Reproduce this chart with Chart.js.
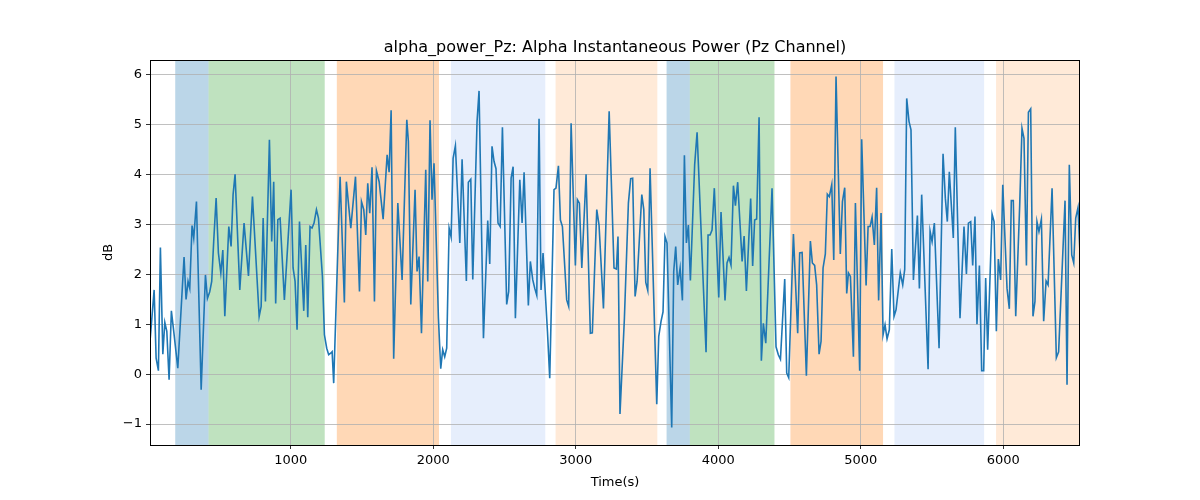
<!DOCTYPE html>
<html>
<head>
<meta charset="utf-8">
<title>alpha_power_Pz</title>
<script src="https://cdn.jsdelivr.net/npm/chart.js@4.4.1/dist/chart.umd.min.js"></script>
<style>
    html, body { margin: 0; padding: 0; background: #ffffff; }
    #chart1 { display: block; }
</style>
</head>
<body>
<canvas id="chart1" width="1200" height="500"></canvas>
<script>
/***  Alpha power Pz  ***/
var chartTitle = 'alpha_power_Pz: Alpha Instantaneous Power (Pz Channel)';
var xLabel = 'Time(s)';
var yLabel = 'dB';

/* Tiempos (s) y potencia (dB) */
var times = [
    13, 41, 55, 71, 85, 102, 116, 130, 146, 162, 179, 207, 251, 265, 279, 291, 307, 319, 338, 371,
    401, 415, 431, 445, 459, 476, 492, 509, 523, 537, 565, 581, 595, 609, 642, 672, 703, 731, 778, 792,
    806, 822, 850, 866, 880, 894, 909, 925, 955, 1002, 1016, 1030, 1044, 1061, 1091, 1105, 1119, 1135, 1149, 1163,
    1180, 1194, 1222, 1236, 1252, 1266, 1280, 1290, 1301, 1346, 1376, 1390, 1421, 1454, 1482, 1496, 1512, 1526, 1540, 1554,
    1570, 1587, 1601, 1620, 1648, 1676, 1690, 1704, 1722, 1751, 1781, 1814, 1825, 1842, 1872, 1886, 1900, 1917, 1947, 1961,
    1977, 1991, 2005, 2036, 2052, 2066, 2080, 2094, 2111, 2125, 2139, 2155, 2186, 2202, 2232, 2246, 2263, 2277, 2307, 2321,
    2352, 2382, 2396, 2412, 2426, 2440, 2454, 2469, 2485, 2515, 2529, 2546, 2560, 2576, 2607, 2623, 2637, 2667, 2681, 2698,
    2712, 2726, 2742, 2756, 2770, 2801, 2817, 2847, 2861, 2878, 2892, 2906, 2936, 2950, 2967, 2997, 3011, 3025, 3042, 3072,
    3102, 3116, 3147, 3163, 3194, 3234, 3268, 3285, 3296, 3310, 3341, 3369, 3385, 3399, 3416, 3430, 3463, 3477, 3491, 3505,
    3521, 3568, 3582, 3598, 3612, 3626, 3640, 3673, 3687, 3701, 3715, 3732, 3748, 3762, 3776, 3790, 3804, 3834, 3851, 3914,
    3928, 3942, 3956, 3972, 4003, 4019, 4047, 4061, 4075, 4089, 4106, 4120, 4136, 4167, 4181, 4197, 4227, 4241, 4255, 4269,
    4286, 4302, 4316, 4333, 4377, 4405, 4421, 4436, 4466, 4480, 4494, 4527, 4557, 4571, 4588, 4618, 4646, 4660, 4676, 4690,
    4707, 4721, 4735, 4751, 4765, 4779, 4796, 4810, 4826, 4856, 4871, 4887, 4901, 4913, 4927, 4948, 4962, 4992, 5006, 5037,
    5051, 5065, 5079, 5095, 5111, 5125, 5142, 5156, 5170, 5184, 5200, 5217, 5233, 5247, 5277, 5294, 5308, 5322, 5338, 5352,
    5369, 5397, 5411, 5427, 5472, 5486, 5500, 5516, 5549, 5577, 5593, 5607, 5621, 5649, 5663, 5696, 5724, 5741, 5755, 5771,
    5785, 5801, 5815, 5832, 5848, 5862, 5876, 5890, 5921, 5935, 5951, 5965, 5981, 5996, 6026, 6042, 6056, 6070, 6087, 6115,
    6131, 6145, 6162, 6176, 6192, 6208, 6222, 6236, 6250, 6267, 6283, 6300, 6314, 6342, 6372, 6388, 6433, 6447, 6463, 6480,
    6494, 6508, 6524, 6538
];
var power = [
    0.69, 1.69, 0.32, 0.07, 2.54, 0.40, 1.04, 0.86, -0.11, 1.27, 0.85, 0.12, 2.35, 1.50, 1.86, 1.72, 2.98, 2.73, 3.46, -0.31,
    1.99, 1.52, 1.65, 1.86, 2.66, 3.53, 2.43, 2.03, 2.49, 1.16, 2.96, 2.56, 3.60, 4.01, 1.69, 3.03, 1.97, 3.56, 1.16, 1.36,
    3.13, 1.46, 4.70, 2.66, 3.86, 1.42, 3.10, 3.13, 1.49, 3.70, 2.13, 1.86, 0.89, 3.06, 1.27, 2.59, 1.14, 2.96, 2.93, 3.03,
    3.30, 3.13, 1.96, 0.79, 0.52, 0.39, 0.42, 0.45, -0.18, 3.96, 1.44, 3.86, 2.93, 3.96, 1.66, 3.46, 3.30, 2.79, 3.83, 3.23,
    4.15, 1.46, 4.08, 3.86, 3.11, 4.40, 4.05, 5.29, 0.31, 3.43, 1.89, 5.10, 4.67, 1.40, 3.70, 2.06, 2.36, 0.82, 4.10, 1.86,
    5.09, 3.50, 4.23, 1.12, 0.11, 0.49, 0.35, 0.52, 2.93, 2.75, 4.33, 4.58, 2.63, 4.31, 1.87, 3.85, 3.91, 1.90, 5.07, 5.68,
    0.72, 3.08, 2.21, 4.57, 4.27, 4.12, 3.03, 2.96, 4.95, 1.40, 1.66, 3.93, 4.16, 1.12, 3.90, 3.03, 4.05, 1.38, 2.26, 1.89,
    1.72, 1.58, 5.12, 1.69, 2.43, 0.86, -0.08, 3.70, 3.73, 4.18, 3.09, 2.96, 1.49, 1.36, 5.03, 2.18, 3.50, 3.43, 2.13, 4.01,
    0.82, 0.83, 3.30, 2.99, 1.32, 5.27, 2.13, 2.11, 2.76, -0.80, 1.12, 3.43, 3.92, 3.93, 1.56, 1.86, 3.60, 3.30, 1.84, 1.68,
    4.13, -0.60, 0.76, 1.06, 1.25, 2.76, 2.63, -1.07, 2.06, 2.56, 1.79, 2.13, 1.48, 4.39, 2.63, 2.99, 1.88, 4.20, 4.85, 0.44,
    2.79, 2.79, 2.89, 3.73, 1.54, 3.25, 1.48, 2.23, 2.34, 2.19, 3.78, 3.38, 3.85, 2.26, 2.77, 1.67, 3.52, 2.17, 3.09, 3.11,
    5.15, 0.27, 1.02, 0.62, 3.73, 0.55, 0.39, 0.30, 1.91, 0.02, -0.07, 2.81, 0.82, 2.43, 2.44, -0.03, 2.67, 2.23, 2.18, 1.79,
    0.40, 0.66, 2.13, 2.41, 3.61, 3.56, 3.80, 2.29, 5.97, 2.41, 3.46, 3.74, 1.62, 2.03, 1.96, 0.35, 3.43, 0.07, 4.71, 1.78,
    2.96, 2.96, 3.15, 2.59, 3.74, 1.48, 3.23, 0.79, 0.99, 0.71, 0.89, 2.51, 1.16, 1.29, 2.03, 1.79, 2.10, 5.53, 5.07, 4.90,
    1.89, 3.18, 1.72, 3.60, 0.10, 2.87, 2.66, 3.03, 0.52, 4.42, 3.53, 3.06, 4.06, 2.73, 4.95, 1.12, 2.96, 2.01, 3.03, 3.06,
    2.18, 3.16, 1.00, 2.18, 0.07, 0.07, 1.93, 0.49, 3.21, 3.06, 0.86, 2.31, 1.89, 3.80, 1.72, 1.31, 3.48, 3.48, 1.16, 3.40,
    4.93, 4.73, 2.18, 5.25, 5.32, 1.16, 1.46, 3.06, 2.86, 3.11, 1.06, 1.87, 1.79, 3.73, 0.33, 0.45, 3.48, -0.21, 4.20, 2.39,
    2.23, 3.13, 3.34, 2.43
];

/* Bandas sombreadas (inicio, fin) */
var bandStart = [189, 423, 1323, 2124, 2858, 3637, 3800, 4506, 5236, 5949];
var bandEnd   = [423, 1238, 2040, 2786, 3572, 3800, 4394, 5156, 5865, 6538];
var bandColor = [
    'rgba(31, 119, 180, 0.3)',
    'rgba(44, 160, 44, 0.3)',
    'rgba(255, 127, 14, 0.3)',
    'rgba(100, 149, 237, 0.16)',
    'rgba(255, 127, 14, 0.16)',
    'rgba(31, 119, 180, 0.3)',
    'rgba(44, 160, 44, 0.3)',
    'rgba(255, 127, 14, 0.3)',
    'rgba(100, 149, 237, 0.16)',
    'rgba(255, 127, 14, 0.16)'
];

/* Ejes */
var xTicks = [1000, 2000, 3000, 4000, 5000, 6000];
var yTicks = [-1, 0, 1, 2, 3, 4, 5, 6];
var xMin = 12, xMax = 6538;
var yMin = -1.42, yMax = 6.3;

var FONT = '"DejaVu Sans", sans-serif';

/* Formato de etiquetas estilo matplotlib (signo menos, sin comas) */
function tickText(v) {
    return v < 0 ? '\u2212' + Math.abs(v) : String(v);
}

/* Bandas de fondo, marco y textos */
var decoPlugin = {
    id: 'deco',
    beforeDraw: function (chart) {
        var ctx = chart.ctx;
        var a = chart.chartArea;
        var x = chart.scales.x;
        ctx.save();
        ctx.fillStyle = '#ffffff';
        ctx.fillRect(0, 0, chart.width, chart.height);
        for (var i = 0; i < bandStart.length; i++) {
            var x0 = Math.max(x.getPixelForValue(bandStart[i]), a.left);
            var x1 = Math.min(x.getPixelForValue(bandEnd[i]), a.right);
            ctx.fillStyle = bandColor[i];
            ctx.fillRect(x0, a.top, x1 - x0, a.bottom - a.top);
        }
        ctx.restore();
    },
    afterDraw: function (chart) {
        var ctx = chart.ctx;
        var a = chart.chartArea;
        ctx.save();
        ctx.strokeStyle = '#000000';
        ctx.lineWidth = 1;
        ctx.strokeRect(a.left + 0.5, a.top + 0.5, a.right - a.left - 1, a.bottom - a.top);

        ctx.fillStyle = '#000000';
        ctx.textAlign = 'center';
        ctx.textBaseline = 'alphabetic';
        ctx.font = '16px ' + FONT;
        ctx.fillText(chartTitle, (a.left + a.right) / 2, 52);

        ctx.font = '13px ' + FONT;
        ctx.fillText(xLabel, (a.left + a.right) / 2, 486);

        ctx.translate(112, (a.top + a.bottom) / 2);
        ctx.rotate(-Math.PI / 2);
        ctx.fillText(yLabel, 0, 0);
        ctx.restore();
    }
};

var ctx1 = document.getElementById('chart1').getContext('2d');
var myChart = new Chart(ctx1, {
    type: 'line',
    data: {
        datasets: [{
            label: 'alpha_power_Pz',
            data: times.map(function (t, i) { return { x: t, y: power[i] }; }),
            borderColor: '#1f77b4',
            borderWidth: 1.6,
            pointRadius: 0,
            tension: 0,
            fill: false
        }]
    },
    options: {
        responsive: false,
        animation: false,
        events: [],
        layout: { padding: { top: 60, right: 120, left: 0, bottom: 0 } },
        plugins: {
            legend: { display: false },
            title: { display: false },
            tooltip: { enabled: false }
        },
        scales: {
            x: {
                type: 'linear',
                min: xMin,
                max: xMax,
                afterFit: function (s) { s.height = 55; },
                afterBuildTicks: function (s) {
                    s.ticks = xTicks.map(function (v) { return { value: v }; });
                },
                grid: { color: '#b0b0b0', lineWidth: 0.8, tickColor: '#000000', tickLength: 4 },
                border: { display: false },
                ticks: {
                    color: '#000000',
                    font: { family: FONT, size: 13 },
                    padding: 4,
                    maxRotation: 0,
                    callback: function (v) { return tickText(v); }
                }
            },
            y: {
                min: yMin,
                max: yMax,
                afterFit: function (s) { s.width = 150; },
                afterBuildTicks: function (s) {
                    s.ticks = yTicks.map(function (v) { return { value: v }; });
                },
                grid: { color: '#b0b0b0', lineWidth: 0.8, tickColor: '#000000', tickLength: 4 },
                border: { display: false },
                ticks: {
                    color: '#000000',
                    font: { family: FONT, size: 13 },
                    padding: 4,
                    callback: function (v) { return tickText(v); }
                }
            }
        }
    },
    plugins: [decoPlugin]
});
</script>
</body>
</html>
